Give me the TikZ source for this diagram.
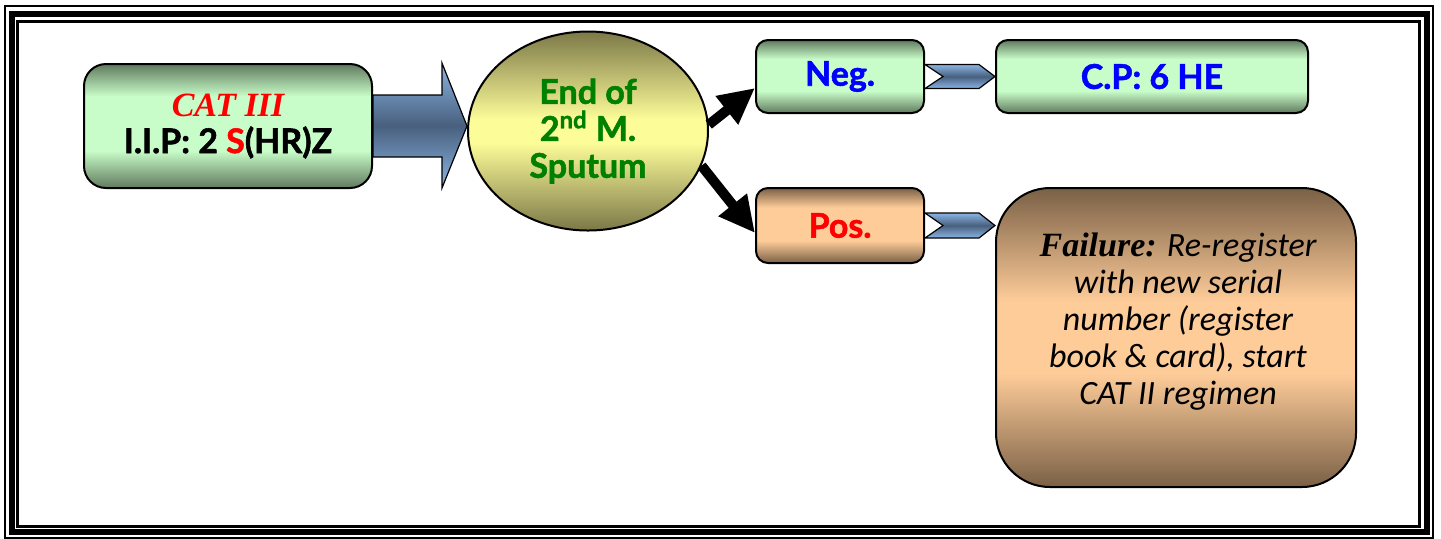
\documentclass[tikz,border=0pt]{standalone}
\usepackage{fontspec}
\setmainfont{Lato}[BoldFeatures={FakeBold=1.6}]
\newfontfamily\bodyit{Carlito}
\newfontfamily\fancy{Liberation Serif}[BoldFeatures={FakeBold=1.5}]
\usetikzlibrary{calc,arrows.meta,shapes.geometric}

% palette
\definecolor{gDark}{RGB}{96,122,94}
\definecolor{gLight}{RGB}{200,252,200}
\definecolor{bDark}{RGB}{122,96,70}
\definecolor{bLight}{RGB}{254,204,153}
\definecolor{yDark}{RGB}{124,120,72}
\definecolor{yLight}{RGB}{252,252,152}
\definecolor{aLight}{RGB}{140,180,228}
\definecolor{aDark}{RGB}{72,96,126}
\definecolor{txtGreen}{RGB}{0,128,0}

% vertical shadings (the middle band 25bp..75bp covers the shape)
\pgfdeclareverticalshading{greenband}{100bp}{color(0bp)=(gDark); color(25bp)=(gDark); color(40bp)=(gLight); color(62bp)=(gLight); color(75bp)=(gDark); color(100bp)=(gDark)}
\pgfdeclareverticalshading{brownband}{100bp}{color(0bp)=(bDark); color(25bp)=(bDark); color(40bp)=(bLight); color(62bp)=(bLight); color(75bp)=(bDark); color(100bp)=(bDark)}
\pgfdeclareverticalshading{brownsoft}{100bp}{color(0bp)=(bDark); color(25bp)=(bDark); color(44bp)=(bLight); color(56bp)=(bLight); color(75bp)=(bDark); color(100bp)=(bDark)}
\pgfdeclareverticalshading{yellowband}{100bp}{color(0bp)=(yDark); color(25bp)=(yDark); color(47bp)=(yLight); color(53bp)=(yLight); color(75bp)=(yDark); color(100bp)=(yDark)}
\pgfdeclareverticalshading{blueband}{100bp}{color(0bp)=(aLight); color(25bp)=(aLight); color(50bp)=(aDark); color(75bp)=(aLight); color(100bp)=(aLight)}

\tikzset{
  basebox/.style={draw=black, line width=1pt, inner sep=0pt, align=center,
    font=\fontsize{17}{18.5}\selectfont\bfseries},
  greenbox/.style={basebox, shading=greenband},
  brownbox/.style={basebox, shading=brownband},
  decision/.style={basebox, ellipse, shading=yellowband, text=txtGreen},
  blockarrow/.style={draw=black, line width=0.6pt, shading=blueband, line join=miter},
  branch/.style={line width=5pt, -{Triangle[length=18pt,width=17pt]}},
  bodytext/.style={align=center, inner sep=0pt,
    font=\fontsize{17}{18.5}\selectfont\bodyit\itshape}
}

\begin{document}
\begin{tikzpicture}[x=0.5pt,y=-0.5pt]
\useasboundingbox (0,0) rectangle (1441,538);

% triple frame
\draw[line width=1pt] (5,6) rectangle (1433,537.5);
\draw[line width=3pt] (11.5,13.5) rectangle (1427,531.5);
\draw[line width=1.5pt] (17.5,21) rectangle (1419.5,526.5);

% boxes
\node[greenbox, rounded corners=11pt, minimum width=144pt, minimum height=62pt] (cat) at (228,126)
  {{\fancy\bfseries\itshape\color{red}CAT III}\\I.I.P: 2 {\color{red}S}(HR)Z};
\node[decision, minimum width=120pt, minimum height=99.5pt] (ell) at (588,131)
  {End of\\2\textsuperscript{nd} M.\\Sputum};
\node[greenbox, rounded corners=6pt, minimum width=84pt, minimum height=36.5pt, text=blue] (neg) at (840,76.5) {Neg.};
\node[greenbox, rounded corners=6pt, minimum width=156pt, minimum height=36.5pt, text=blue] (cp) at (1152,76.5) {C.P: 6 HE};
\node[brownbox, rounded corners=6pt, minimum width=84pt, minimum height=37.5pt, text=red] (pos) at (840,225.5) {Pos.};
\node[basebox, shading=brownsoft, rounded corners=27pt, minimum width=180pt, minimum height=149.5pt] (fail) at (1176,337.5) {};
\node[bodytext] (failtext) at ($(fail.center)+(2,-16)$)
  {{\fancy\bfseries\itshape Failure:} Re-register\\with new serial\\number (register\\book \& card), start\\CAT II regimen};

% block arrow from the first box to the sputum check
\coordinate (tip) at (cat.east -| ell.west);
\draw[blockarrow] ($(cat.east)+(0,-31)$) -- ($(tip)+(-25,-31)$) -- ($(tip)+(-25,-63)$)
  -- (tip) -- ($(tip)+(-25,62)$) -- ($(tip)+(-25,31)$) -- ($(cat.east)+(0,31)$) -- cycle;

% branches
\draw[branch] (ell.3) -- ($(neg.west)+(0,11.5)$);
\draw[branch] (ell.-17) -- ($(pos.west)+(0,7.5)$);

% chevron connectors
\draw[blockarrow] ($(neg.east)+(0,-12)$) -- ($(cp.west)+(-16,-12)$) -- (cp.west)
  -- ($(cp.west)+(-16,12)$) -- ($(neg.east)+(0,12)$) -- ($(neg.east)+(18,0)$) -- cycle;
\coordinate (ftip) at (pos.east -| fail.west);
\draw[blockarrow] ($(pos.east)+(0,-12.5)$) -- ($(ftip)+(-16,-12.5)$) -- (ftip)
  -- ($(ftip)+(-16,12.5)$) -- ($(pos.east)+(0,12.5)$) -- ($(pos.east)+(18,0)$) -- cycle;
\end{tikzpicture}
\end{document}
